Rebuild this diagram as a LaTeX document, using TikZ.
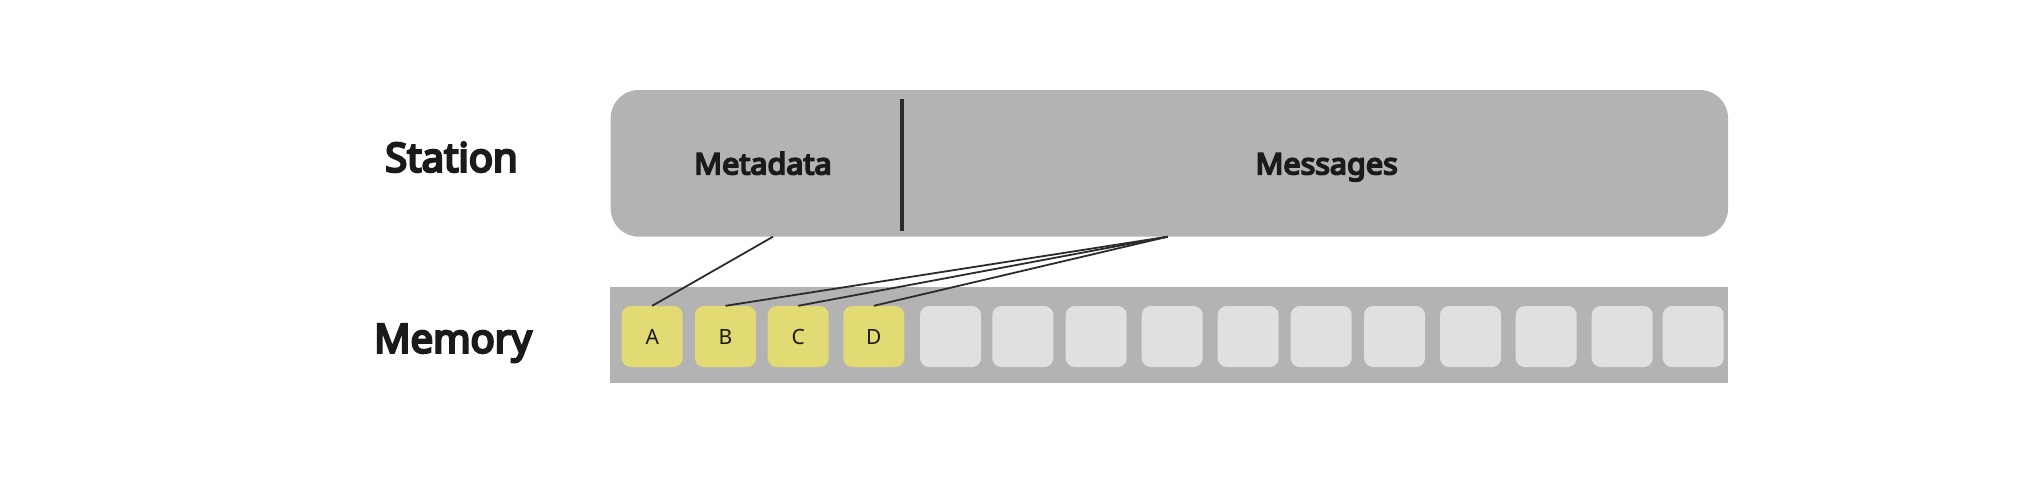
\documentclass[tikz,border=0pt]{standalone}
\usepackage{fontspec}
\setmainfont{Noto Sans}
\newfontfamily\hbold{Noto Sans}[FakeBold=6]
\newfontfamily\hboldw{Noto Sans}[FakeBold=6,FakeStretch=1.04]
\definecolor{boxgray}{HTML}{B3B3B3}
\definecolor{cellgray}{HTML}{E0E0E0}
\definecolor{cellyellow}{HTML}{E2DA72}
\definecolor{inkc}{HTML}{1A1A1A}
\definecolor{linec}{HTML}{2B2B2B}
\begin{document}
\begin{tikzpicture}[x=1pt,y=1pt,
  rowlabel/.style={font=\hbold\fontsize{40}{44}\selectfont, text=inkc, inner sep=0pt, anchor=base},
  partlabel/.style={font=\hboldw\fontsize{29.4}{33}\selectfont, text=inkc, inner sep=0pt, anchor=base},
  stationbox/.style={fill=boxgray, draw=none, rounded corners=28pt, inner sep=0pt, minimum width=1117.3pt, minimum height=146.7pt},
  membar/.style={fill=boxgray, draw=none, inner sep=0pt, minimum width=1118pt, minimum height=96pt},
  cellbox/.style={draw=none, rounded corners=9pt, inner sep=0pt, minimum width=61pt, minimum height=61pt, font=\fontsize{21}{24}\selectfont, text=inkc},
  usedcell/.style={cellbox, fill=cellyellow},
  freecell/.style={cellbox, fill=cellgray},
  divider/.style={draw=linec, line width=3.5pt},
  link/.style={draw=linec, line width=1.8pt}
]
\useasboundingbox (0,0) rectangle (2017,-495);
% station
\node[stationbox] (box) at (1169.35,-163.35) {};
\draw[divider] (902,-99) -- (902,-231);
\node[partlabel] (meta) at (763,-174.3) {Metadata};
\node[partlabel] (msgs) at (1326.7,-174.3) {Messages};
% labels
\node[rowlabel] (station) at (451.5,-171.7) {Station};
\node[rowlabel] (memory) at (453,-352.7) {Memory};
% memory
\node[membar] (bar) at (1169,-334.7) {};
\node[usedcell] (cA) at (652.2,-336.5) {A};
\node[usedcell] (cB) at (725.5,-336.5) {B};
\node[usedcell] (cC) at (798.2,-336.5) {C};
\node[usedcell] (cD) at (873.8,-336.5) {D};
\foreach \lx [count=\i] in {920,992.3,1065.7,1141.7,1217.7,1290.7,1364,1440,1515.7,1591.7,1662.7}{
  \node[freecell] (f\i) at (\lx+30.5,-336.5) {};
}
% connectors
\coordinate (mdpt) at (773,-236.7);
\coordinate (mspt) at (1167.7,-236.7);
\draw[link] (mdpt) -- (cA.north);
\draw[link] (mspt) -- (cB.north);
\draw[link] (mspt) -- (cC.north);
\draw[link] (mspt) -- (cD.north);
\end{tikzpicture}
\end{document}
